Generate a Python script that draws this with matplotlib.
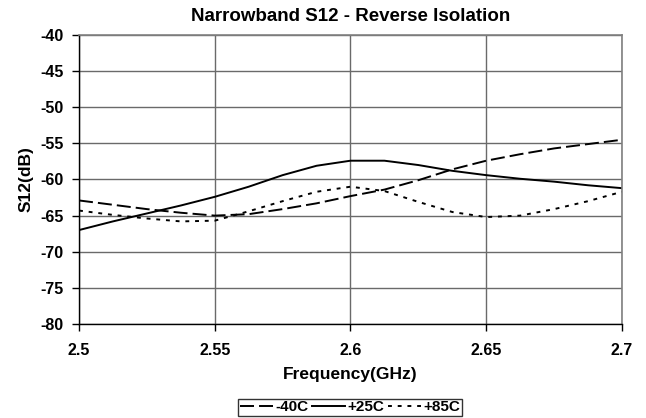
import numpy as np
import matplotlib
matplotlib.use("Agg")
import matplotlib.pyplot as plt
from matplotlib.ticker import FixedLocator, FixedFormatter

plt.rcParams['font.family'] = ['Liberation Sans', 'DejaVu Sans']
plt.rcParams['font.weight'] = 'bold'

# frequency in GHz
freq = [2.5, 2.5125, 2.525, 2.5375, 2.55, 2.5625, 2.575, 2.5875, 2.6,
        2.6125, 2.625, 2.6375, 2.65, 2.6625, 2.675, 2.6875, 2.7]

# S12 in dB for three temperatures
s12_m40 = [-62.9, -63.5, -64.1, -64.6, -65.0, -64.8, -64.1, -63.3, -62.3,
           -61.4, -60.1, -58.6, -57.4, -56.5, -55.7, -55.1, -54.5]
s12_p25 = [-67.0, -65.8, -64.7, -63.6, -62.4, -61.0, -59.4, -58.1, -57.4,
           -57.4, -58.0, -58.8, -59.4, -59.9, -60.3, -60.8, -61.2]
s12_p85 = [-64.3, -64.9, -65.4, -65.8, -65.7, -64.4, -63.0, -61.7, -61.0,
           -61.6, -63.1, -64.5, -65.2, -65.0, -64.1, -63.0, -61.7]

labels = ["-40C", "+25C", "+85C"]
xticks = [2.5, 2.55, 2.6, 2.65, 2.7]
yticks = [-80, -75, -70, -65, -60, -55, -50, -45, -40]

fig = plt.figure(figsize=(6.46, 4.18), dpi=100)
ax = fig.add_axes([0.1223, 0.2249, 0.8405, 0.6914])

ax.plot(freq, s12_m40, color='black', lw=1.4, dashes=(7.2, 2.6), label=labels[0])
ax.plot(freq, s12_p25, color='black', lw=1.4, label=labels[1])
ax.plot(freq, s12_p85, color='black', lw=1.4, dashes=(2.0, 3.0), label=labels[2])

ax.set_xlim(2.5, 2.7)
ax.set_ylim(-80, -40)
ax.xaxis.set_major_locator(FixedLocator(xticks))
ax.xaxis.set_major_formatter(FixedFormatter(["%g" % v for v in xticks]))
ax.yaxis.set_major_locator(FixedLocator(yticks))
ax.yaxis.set_major_formatter(FixedFormatter(["%g" % v for v in yticks]))

ax.grid(True, color='#6a6a6a', lw=1.0)
ax.set_axisbelow(True)
for side in ['top', 'right']:
    ax.spines[side].set_color('#808080')
    ax.spines[side].set_linewidth(1.2)
for side in ['left', 'bottom']:
    ax.spines[side].set_color('black')
    ax.spines[side].set_linewidth(1.0)

ax.tick_params(direction='out', length=5, width=1, labelsize=11.5)
ax.tick_params(axis='x', pad=9)
ax.tick_params(axis='y', pad=6)
for lbl in ax.get_xticklabels() + ax.get_yticklabels():
    lbl.set_fontweight('bold')

ax.set_title("Narrowband S12 - Reverse Isolation", fontsize=13.5,
             fontweight='bold', pad=10)
ax.set_xlabel("Frequency(GHz)", fontsize=12.5, fontweight='bold', labelpad=6)
ax.set_ylabel("S12(dB)", fontsize=12.5, fontweight='bold', labelpad=5)

leg = fig.legend(loc='center', bbox_to_anchor=(0.542, 0.026), ncol=3,
                 frameon=True, fancybox=False, fontsize=11,
                 handlelength=2.15, handletextpad=0.2, columnspacing=0.2,
                 borderpad=0.1, borderaxespad=0)
leg.get_frame().set_edgecolor('black')
leg.get_frame().set_linewidth(1.0)
for t in leg.get_texts():
    t.set_fontweight('bold')

fig.savefig("out.png", dpi=100)
